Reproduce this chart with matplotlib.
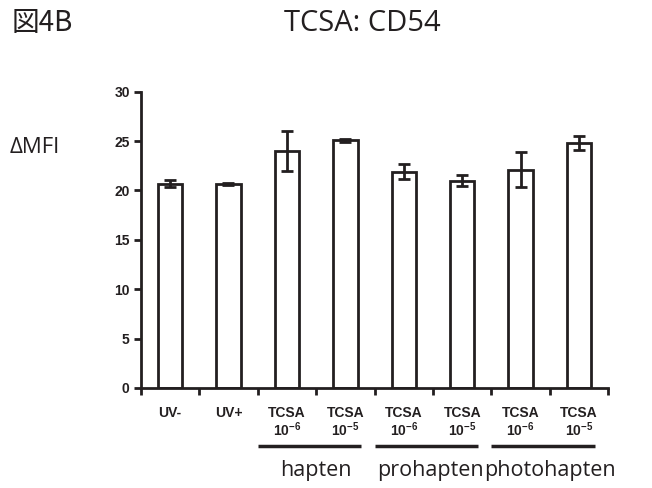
import matplotlib.pyplot as plt
import numpy as np

plt.rcParams['mathtext.default'] = 'regular'

# mean and error (delta MFI)
labels = ["UV-", "UV+", "TCSA\n10$^{-6}$", "TCSA\n10$^{-5}$", "TCSA\n10$^{-6}$",
          "TCSA\n10$^{-5}$", "TCSA\n10$^{-6}$", "TCSA\n10$^{-5}$"]
mfi = [20.7, 20.7, 24.0, 25.1, 21.9, 21.0, 22.1, 24.8]
err = [0.35, 0.1, 2.0, 0.15, 0.75, 0.55, 1.75, 0.7]
groups = ["hapten", "prohapten", "photohapten"]
group_start = [2, 4, 6]

x = np.arange(len(mfi))

fig = plt.figure(figsize=(6.52, 4.88), dpi=100)
ax = fig.add_axes([0.216, 0.205, 0.717, 0.607])

ax.bar(x, mfi, width=0.42, color='white', edgecolor='#231f20', linewidth=2)
ax.errorbar(x, mfi, yerr=err, fmt='none', ecolor='#231f20', elinewidth=2,
            capsize=4.5, capthick=2)

ax.set_xlim(-0.5, 7.5)
ax.set_ylim(0, 30)
ax.set_yticks([0, 5, 10, 15, 20, 25, 30])
for s in ['top', 'right']:
    ax.spines[s].set_visible(False)
for s in ['left', 'bottom']:
    ax.spines[s].set_linewidth(2)
    ax.spines[s].set_color('#231f20')

ax.set_xticks(x)
ax.set_xticklabels(labels, fontweight='bold', fontsize=10, family='Liberation Sans',
                   color='#231f20', linespacing=1.0)
ax.tick_params(axis='x', which='major', length=0, pad=13)
ax.set_xticks(np.arange(-0.5, 8, 1), minor=True)
ax.tick_params(axis='x', which='minor', length=5, width=2, color='#231f20')
ax.tick_params(axis='y', length=5, width=2, color='#231f20', pad=3)
for t in ax.get_yticklabels():
    t.set_fontweight('bold')
    t.set_fontsize(10)
    t.set_family('Liberation Sans')
    t.set_color('#231f20')

# group brackets under the tick labels
label_x = [2.5, 4.45, 6.5]
for g, s, lx in zip(groups, group_start, label_x):
    ax.plot([s - 0.5, s + 1.27], [-5.9, -5.9], color='#231f20', lw=2.5,
            clip_on=False, solid_capstyle='butt')
    ax.text(lx, -8.4, g, ha='center', va='center', fontsize=15.5,
            family='Open Sans', color='#231f20')

fig.text(0.018, 0.952, "図4B", fontsize=20, family=['Noto Sans CJK JP', 'DejaVu Sans'],
         va='center', ha='left', color='#231f20')
fig.text(0.556, 0.952, "TCSA: CD54", fontsize=21, family='Open Sans',
         va='center', ha='center', color='#231f20')
fig.text(0.015, 0.698, "ΔMFI", fontsize=16, family='Open Sans',
         va='center', ha='left', color='#231f20')

plt.savefig('out.png')
